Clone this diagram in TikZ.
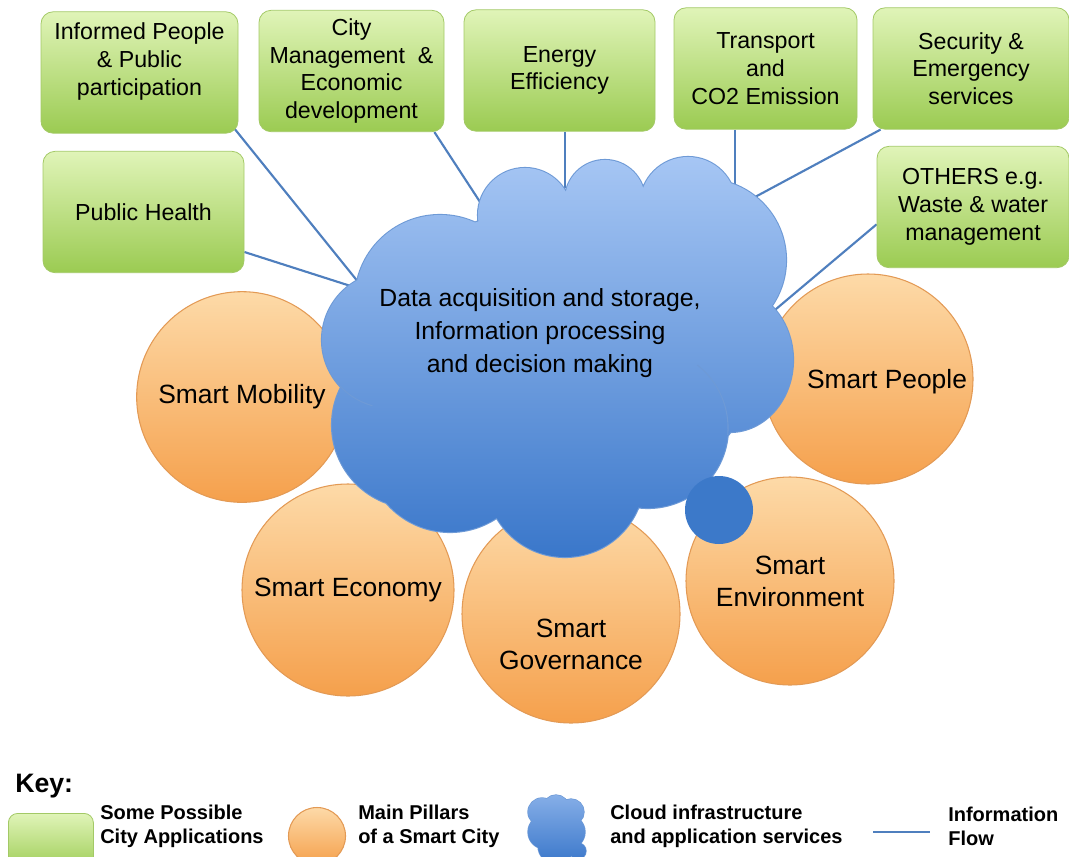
\documentclass[tikz,border=0pt]{standalone}
\usepackage{fontspec}
\setmainfont{Liberation Sans}
\usetikzlibrary{backgrounds, calc}
\definecolor{appTop}{HTML}{E0F4B8}
\definecolor{appBot}{HTML}{9BCB52}
\definecolor{appLine}{HTML}{A3C966}
\definecolor{pilTop}{HTML}{FDDAA8}
\definecolor{pilBot}{HTML}{F5A04C}
\definecolor{pilLine}{HTML}{E39A55}
\definecolor{cloudTop}{HTML}{A6C6F4}
\definecolor{cloudBot}{HTML}{3A77CA}
\definecolor{cloudLine}{HTML}{6E9AD6}
\definecolor{bubbleBlue}{HTML}{3C79C9}
\definecolor{flowBlue}{HTML}{4F7FBE}
\newcommand{\cloudShape}{(440,-300) circle [radius=85] (525,-215) circle [radius=47]
  (605,-200) circle [radius=40] (688,-205) circle [radius=48] (705,-260) circle [radius=81]
  (730,-360) ellipse [x radius=63, y radius=72] (648,-428) circle [radius=80]
  (565,-478) circle [radius=79] (450,-448) circle [radius=84] (415,-425) circle [radius=83]
  (390,-340) circle [radius=68] (555,-360) ellipse [x radius=200, y radius=150]}
\newcommand{\keyCloud}{(542,-812) circle [radius=14] (556,-808) circle [radius=13]
  (571,-812) circle [radius=13] (545,-832) circle [radius=17] (568,-832) circle [radius=17]
  (556,-846) circle [radius=18] (578,-851) circle [radius=8]}
\tikzset{
  flow/.style={flowBlue, line width=1.6pt},
  appBox/.style={rectangle, rounded corners=9pt, draw=appLine, line width=0.6pt,
                 top color=appTop, bottom color=appBot, align=center,
                 font=\fontsize{17.4}{20.8}\selectfont, minimum height=91pt, inner sep=2pt},
  pillar/.style={circle, draw=pilLine, line width=0.8pt, top color=pilTop,
                 bottom color=pilBot, inner sep=0pt, align=center,
                 font=\fontsize{19.8}{24}\selectfont},
  pillarText/.style={align=center, font=\fontsize{19.8}{24}\selectfont},
  cloudText/.style={align=center, font=\fontsize{18.6}{24.7}\selectfont},
  keyTitle/.style={anchor=base west, inner sep=0pt, font=\bfseries\fontsize{20}{24}\selectfont},
  keyText/.style={anchor=west, align=left, inner sep=0pt, font=\bfseries\fontsize{15}{18}\selectfont},
}

\begin{document}
\begin{tikzpicture}[x=0.75pt, y=0.75pt]
  \useasboundingbox (0,0) rectangle (1069,-856);
  \node[appBox, minimum width=147.75pt, text depth=20pt] (inf) at (139.5,-72.5) {Informed People\\\& Public\\participation};
  \node[appBox, minimum width=138.75pt] (city) at (351.5,-71) {City\\Management~~\&\\Economic\\development};
  \node[appBox, minimum width=143.25pt] (energy) at (559.5,-70.5) {Energy\\Efficiency};
  \node[appBox, minimum width=137.25pt] (trans) at (765.5,-68.5) {Transport\\and\\CO2 Emission};
  \node[appBox, minimum width=147pt] (sec) at (971,-68.5) {Security \&\\Emergency\\services};
  \node[appBox, minimum width=150.75pt] (ph) at (143.5,-212) {Public Health};
  \node[appBox, minimum width=144pt] (oth) at (973,-207) {OTHERS e.g.\\Waste \& water\\management};

  \coordinate (c-inf) at (363,-288);
  \coordinate (c-ph) at (360,-289);
  \coordinate (c-city) at (482,-205);
  \coordinate (c-energy) at (565,-188);
  \coordinate (c-trans) at (735,-187);
  \coordinate (c-sec) at (742,-204);
  \coordinate (c-oth) at (763,-320);
  \begin{scope}[on background layer]
    \draw[flow] ([shift={(-3.6pt,4.5pt)}]inf.south east) -- (c-inf);
    \draw[flow] ([yshift=-30pt]ph.east) -- (c-ph);
    \draw[flow] ([xshift=-7.5pt]city.south east) -- (c-city);
    \draw[flow] (energy.south -| c-energy) -- (c-energy);
    \draw[flow] (trans.south -| c-trans) -- (c-trans);
    \draw[flow] ([xshift=6pt]sec.south west) -- (c-sec);
    \draw[flow] ([yshift=-13pt]oth.west) -- (c-oth);
  \end{scope}

  \node[pillar, minimum size=158pt] (mob) at (242,-397) {Smart Mobility};
  \node[pillar, minimum size=159pt] (eco) at (348,-590) {Smart Economy};
  \node[pillar, minimum size=163.5pt] (gov) at (571,-614) {};
  \node[pillar, minimum size=157.5pt] (ppl) at (868,-379) {};
  \node[pillar, minimum size=156pt] (env) at (790,-581) {Smart\\Environment};

  \path[draw=cloudLine, line width=1.6pt] \cloudShape;
  \shade[top color=cloudTop, bottom color=cloudBot] \cloudShape;
  \draw[cloudLine, line width=0.8pt] (697.3,-365) arc [start angle=52, end angle=-5, radius=80];
  \draw[cloudLine, line width=0.8pt] (334.3,-379) arc [start angle=215, end angle=255, radius=68];
  \fill[bubbleBlue] (719,-510) circle [radius=34];
  \node[cloudText] (data) at (540,-333) {Data acquisition and storage,\\Information processing\\and decision making};
  \node[pillarText] (pplTxt) at (887,-382) {Smart People};
  \node[pillarText] (govTxt) at (571,-644) {Smart\\Governance};

  \node[keyTitle] (keyT) at (15,-792) {Key:};
  \begin{scope}
    \clip (0,0) rectangle (1069,-856);
    \node[appBox, rounded corners=7pt, minimum width=63.75pt, minimum height=44pt, anchor=north west] (kApp) at (8,-813) {};
    \node[pillar, minimum size=42.75pt] (kPil) at (317,-836) {};
    \path[draw=cloudLine, line width=1pt] \keyCloud;
    \shade[top color=cloudTop!70!cloudBot, bottom color=cloudBot] \keyCloud;
  \end{scope}
  \coordinate (kf1) at (873,-832);
  \coordinate (kf2) at (930,-832);
  \draw[flow] (kf1) -- (kf2);
  \node[keyText] (kAppTxt) at (100,-826) {Some Possible\\City Applications};
  \node[keyText] (kPilTxt) at (358,-826) {Main Pillars\\of a Smart City};
  \node[keyText] (kCloudTxt) at (610,-826) {Cloud infrastructure\\and application services};
  \node[keyText] (kFlowTxt) at (948,-826) {Information\\Flow};
\end{tikzpicture}
\end{document}
